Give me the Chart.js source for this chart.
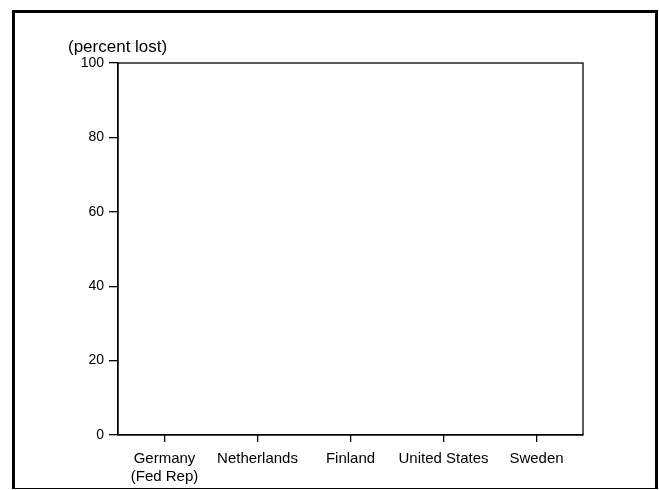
<!DOCTYPE html>
<html>
<head>
<meta charset="utf-8">
<script src="https://cdn.jsdelivr.net/npm/chart.js@4/dist/chart.umd.min.js"></script>
<style>
  html, body { margin: 0; padding: 0; background: #fff; }
  #wrap { width: 659px; height: 490px; }
</style>
</head>
<body>
<div id="wrap"><canvas id="c" width="659" height="490"></canvas></div>
<script>
// Categories, tick values and the (empty) series for the percent-lost chart
const countries = [['Germany', '(Fed Rep)'], 'Netherlands', 'Finland', 'United States', 'Sweden'];
const percentLost = [null, null, null, null, null];
const yTicks = [0, 20, 40, 60, 80, 100];
const unitLabel = '(percent lost)';

const FONT = '"Liberation Sans", Arial, Helvetica, sans-serif';
const INK = '#000';

// Outer frame, plot box and the unit label above the y axis
const framePlugin = {
  id: 'frame',
  afterDraw(chart) {
    const { ctx, chartArea: a } = chart;
    ctx.save();
    ctx.strokeStyle = INK;
    ctx.lineWidth = 1.3;
    ctx.strokeRect(a.left, a.top, a.right - a.left, a.bottom - a.top);

    ctx.lineWidth = 3;
    ctx.beginPath();
    ctx.moveTo(13.5, 489);
    ctx.lineTo(13.5, 11.5);
    ctx.lineTo(656.5, 11.5);
    ctx.lineTo(656.5, 489);
    ctx.stroke();
    ctx.lineWidth = 1.2;
    ctx.beginPath();
    ctx.moveTo(13.5, 488.5);
    ctx.lineTo(656.5, 488.5);
    ctx.stroke();

    ctx.fillStyle = INK;
    ctx.font = '17px ' + FONT;
    ctx.textAlign = 'left';
    ctx.textBaseline = 'middle';
    ctx.fillText(unitLabel, 68, 47);
    ctx.restore();
  }
};

new Chart(document.getElementById('c'), {
  type: 'bar',
  data: {
    labels: countries,
    datasets: [{
      label: unitLabel,
      data: percentLost,
      backgroundColor: '#222',
      borderWidth: 0
    }]
  },
  options: {
    responsive: false,
    animation: false,
    devicePixelRatio: 1,
    layout: { padding: { top: 63, right: 76, left: 0, bottom: 0 } },
    plugins: {
      legend: { display: false },
      title: { display: false },
      tooltip: { enabled: false }
    },
    scales: {
      x: {
        grid: {
          offset: false,
          drawOnChartArea: false,
          drawTicks: true,
          tickLength: 7,
          color: INK,
          lineWidth: 1.3
        },
        border: { display: true, color: INK, width: 1.3 },
        ticks: {
          color: INK,
          font: { family: FONT, size: 15, lineHeight: 1.2 },
          padding: 8,
          maxRotation: 0,
          autoSkip: false
        },
        afterFit(scale) { scale.height = 55; }
      },
      y: {
        min: 0,
        max: 100,
        afterBuildTicks(scale) { scale.ticks = yTicks.map(v => ({ value: v })); },
        grid: {
          drawOnChartArea: false,
          drawTicks: true,
          tickLength: 9,
          color: INK,
          lineWidth: 1.3
        },
        border: { display: true, color: INK, width: 1.3 },
        ticks: {
          color: INK,
          font: { family: FONT, size: 14 },
          padding: 5
        },
        afterFit(scale) { scale.width = 118; }
      }
    }
  },
  plugins: [framePlugin]
});
</script>
</body>
</html>
